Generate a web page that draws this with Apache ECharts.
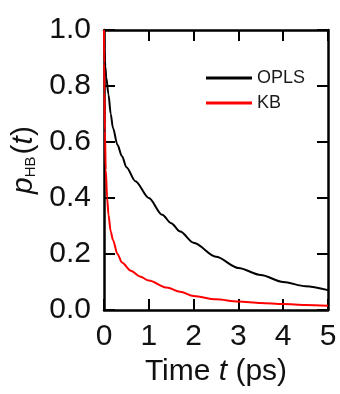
<!DOCTYPE html>
<html>
<head>
<meta charset="utf-8">
<script src="https://cdn.jsdelivr.net/npm/echarts@6/dist/echarts.min.js"></script>
<style>
  html, body { margin: 0; padding: 0; background: #fff; }
  #chart { width: 340px; height: 394px; }
</style>
</head>
<body>
<div id="chart"></div>
<script>
// H-bond survival curves
var tOPLS = [0, 0.01, 0.03, 0.05, 0.1, 0.15, 0.2, 0.3, 0.4, 0.5, 0.7, 1.0, 1.3, 1.5, 1.7, 2.0, 2.5, 3.0, 3.5, 4.0, 4.5, 5.0]
var pOPLS = [1.0, 0.93, 0.87, 0.83, 0.77, 0.70, 0.65, 0.59, 0.55, 0.51, 0.46, 0.40, 0.34, 0.31, 0.28, 0.24, 0.19, 0.15, 0.125, 0.10, 0.085, 0.071]
var tKB = [0, 0.005, 0.01, 0.02, 0.04, 0.07, 0.1, 0.15, 0.2, 0.3, 0.4, 0.6, 0.8, 1.0, 1.4, 1.7, 2.0, 2.5, 3.0, 3.5, 4.0, 4.5, 5.0]
var pKB = [1.0, 0.88, 0.78, 0.64, 0.50, 0.40, 0.34, 0.28, 0.25, 0.20, 0.17, 0.14, 0.12, 0.105, 0.08, 0.065, 0.05, 0.038, 0.03, 0.025, 0.021, 0.018, 0.015]
var xTicks = [0, 1, 2, 3, 4, 5]
var yTicks = [0.0, 0.2, 0.4, 0.6, 0.8, 1.0]

function pairs (xs, ys) {
  return xs.map(function (x, i) { return [x, ys[i]] })
}

var font = 'Liberation Sans, Arial, sans-serif'
var axisLine = { show: true, onZero: false, lineStyle: { color: '#000', width: 2.5 } }
var axisTick = { show: true, inside: true, length: 11, lineStyle: { color: '#000', width: 2 } }

var chart = echarts.init(document.getElementById('chart'), null, { renderer: 'canvas' })
chart.setOption({
  animation: false,
  grid: { left: 104, top: 30, width: 224, height: 280 },
  legend: {
    orient: 'vertical',
    left: 206,
    top: 69,
    padding: 0,
    itemWidth: 46,
    itemHeight: 3,
    itemGap: 7,
    icon: 'rect',
    textStyle: { fontFamily: font, fontSize: 18, color: '#1a1a1a' },
    data: ['OPLS', 'KB']
  },
  xAxis: [{
    type: 'value',
    min: xTicks[0],
    max: xTicks[xTicks.length - 1],
    interval: 1,
    axisLine: axisLine,
    axisTick: axisTick,
    splitLine: { show: false },
    axisLabel: { fontFamily: font, fontSize: 30, color: '#111', margin: 12 },
    name: '{n|Time }{i|t}{n| (ps)}',
    nameLocation: 'middle',
    nameGap: 40,
    nameTextStyle: {
      rich: {
        n: { fontFamily: font, fontSize: 30, color: '#111' },
        i: { fontFamily: font, fontSize: 30, fontStyle: 'italic', color: '#111' }
      }
    }
  }, {
    type: 'value',
    position: 'top',
    min: xTicks[0],
    max: xTicks[xTicks.length - 1],
    interval: 1,
    axisLine: axisLine,
    axisTick: axisTick,
    splitLine: { show: false },
    axisLabel: { show: false }
  }],
  yAxis: [{
    type: 'value',
    min: yTicks[0],
    max: yTicks[yTicks.length - 1],
    interval: 0.2,
    axisLine: axisLine,
    axisTick: axisTick,
    splitLine: { show: false },
    axisLabel: {
      fontFamily: font, fontSize: 30, color: '#111', margin: 13,
      formatter: function (v) { return v.toFixed(1) }
    },
    name: '{p|p}{s|HB}{n|(}{p|t}{n|)}',
    nameLocation: 'middle',
    nameRotate: 90,
    nameGap: 62,
    nameTextStyle: {
      padding: [0, 0, 0, 20],
      rich: {
        p: { fontFamily: font, fontSize: 30, fontStyle: 'italic', color: '#111', lineHeight: 30 },
        n: { fontFamily: font, fontSize: 30, color: '#111', lineHeight: 30 },
        s: { fontFamily: font, fontSize: 15, color: '#111', lineHeight: 15, verticalAlign: 'bottom', padding: [0, 2, 0, 0] }
      }
    }
  }, {
    type: 'value',
    position: 'right',
    min: yTicks[0],
    max: yTicks[yTicks.length - 1],
    interval: 0.2,
    axisLine: axisLine,
    axisTick: axisTick,
    splitLine: { show: false },
    axisLabel: { show: false }
  }],
  series: [
    {
      name: 'OPLS',
      type: 'line',
      data: pairs(tOPLS, pOPLS),
      showSymbol: false,
      smooth: 0.3,
      smoothMonotone: 'x',
      itemStyle: { color: '#000' },
      lineStyle: { color: '#000', width: 2 },
      z: 2
    },
    {
      name: 'KB',
      type: 'line',
      data: pairs(tKB, pKB),
      showSymbol: false,
      smooth: 0.3,
      smoothMonotone: 'x',
      itemStyle: { color: '#ff0000' },
      lineStyle: { color: '#ff0000', width: 2 },
      z: 3
    }
  ]
})
</script>
</body>
</html>
